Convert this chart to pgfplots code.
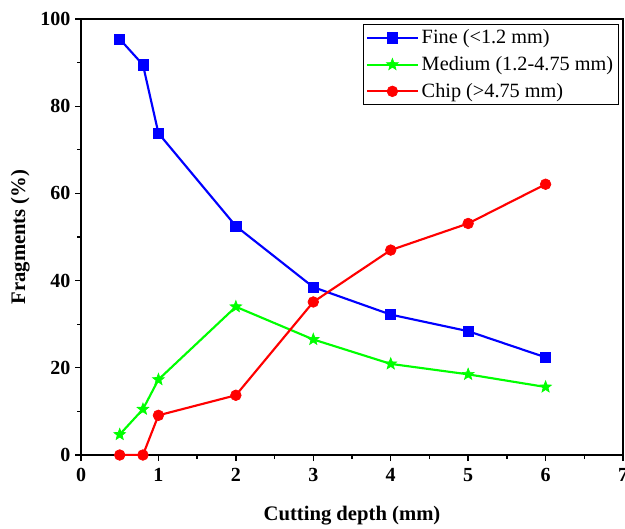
\documentclass[border=0pt]{standalone}
\usepackage{fontspec}
\setmainfont{Liberation Serif}
\usepackage{pgfplots}
\pgfplotsset{compat=1.18}
\pgfdeclareplotmark{fstar}{%
  \pgfpathmoveto{\pgfpointpolar{90}{\pgfplotmarksize}}%
  \pgfpathlineto{\pgfpointpolar{126}{0.42\pgfplotmarksize}}%
  \pgfpathlineto{\pgfpointpolar{162}{\pgfplotmarksize}}%
  \pgfpathlineto{\pgfpointpolar{198}{0.42\pgfplotmarksize}}%
  \pgfpathlineto{\pgfpointpolar{234}{\pgfplotmarksize}}%
  \pgfpathlineto{\pgfpointpolar{270}{0.42\pgfplotmarksize}}%
  \pgfpathlineto{\pgfpointpolar{306}{\pgfplotmarksize}}%
  \pgfpathlineto{\pgfpointpolar{342}{0.42\pgfplotmarksize}}%
  \pgfpathlineto{\pgfpointpolar{18}{\pgfplotmarksize}}%
  \pgfpathlineto{\pgfpointpolar{54}{0.42\pgfplotmarksize}}%
  \pgfpathclose
  \pgfusepathqfillstroke
}
\begin{document}
\begin{tikzpicture}
\begin{axis}[
  name=ax,
  scale only axis,
  width=406.5pt, height=327pt,
  xmin=0, xmax=7, ymin=0, ymax=100,
  xtick={0,1,2,3,4,5,6,7},
  ytick={0,20,40,60,80,100},
  minor x tick num=1,
  minor y tick num=1,
  tick align=outside,
  xtick pos=bottom, ytick pos=left,
  major tick length=4.5pt,
  minor tick length=3pt,
  axis line style={line width=1pt},
  every tick/.style={black, line width=1pt},
  /pgf/number format/assume math mode=true,
  tick label style={font=\fontsize{15}{18}\selectfont\bfseries},
  xticklabel style={yshift=-2pt},
  label style={font=\fontsize{15.5}{18}\selectfont\bfseries},
  xlabel={Cutting depth (mm)},
  ylabel={Fragments (\%)},
  xlabel style={yshift=-11pt},
  ylabel style={yshift=1pt},
  legend style={at={(axis description cs:1,1)}, anchor=north east, xshift=-3pt, yshift=-3.75pt,
    draw=black, line width=0.8pt, font=\fontsize{15.2}{18}\selectfont, inner sep=2pt,
    row sep=4pt, cells={anchor=west}},
  legend image code/.code={
    \draw[#1, mark=none] (0cm,0cm) -- (1.35cm,0cm);
    \draw[#1, only marks] plot coordinates {(0.675cm,0cm)};
  },
]
\addplot[blue, line width=1.6pt, mark=square*, mark size=3.8pt, mark options={solid, line width=0.5pt}]
coordinates {(0.5,95.4) (0.8,89.5) (1,73.8) (2,52.5) (3,38.5) (4,32.2) (5,28.4) (6,22.4)};
\addlegendentry{Fine (<1.2 mm)}
\addplot[green, line width=1.6pt, mark=fstar, mark size=4.6pt, mark options={solid, fill=green, line width=0.5pt}]
coordinates {(0.5,4.7) (0.8,10.5) (1,17.3) (2,34.0) (3,26.5) (4,20.9) (5,18.5) (6,15.6)};
\addlegendentry{Medium (1.2-4.75 mm)}
\addplot[red, line width=1.6pt, mark=*, mark size=4pt, mark options={solid, line width=0.5pt}]
coordinates {(0.5,0) (0.8,0) (1,9.1) (2,13.7) (3,35.1) (4,47.0) (5,53.1) (6,62.1)};
\addlegendentry{Chip (>4.75 mm)}
\end{axis}
\pgfresetboundingbox
\path ([xshift=-60.75pt, yshift=-54.75pt]ax.south west) rectangle ([xshift=1.5pt, yshift=14.25pt]ax.north east);
\end{tikzpicture}
\end{document}
